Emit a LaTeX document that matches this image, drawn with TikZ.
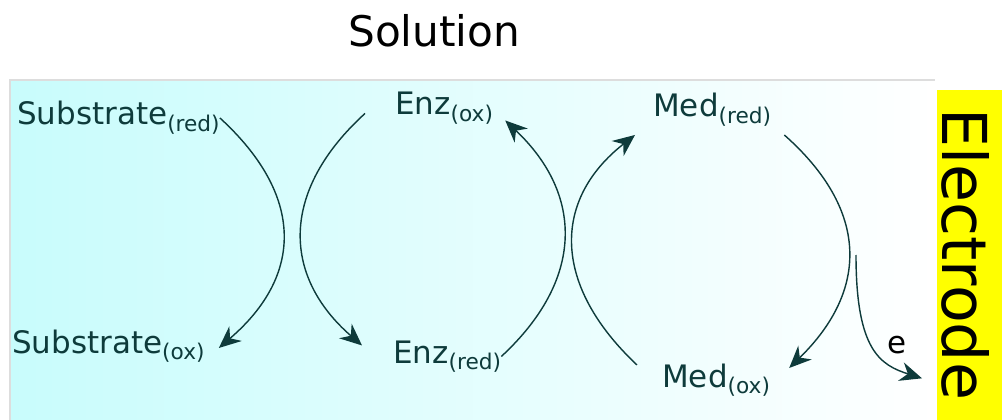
\documentclass[tikz,border=0pt]{standalone}
\usepackage{fontspec}
\setmainfont{DejaVu Sans}
\usetikzlibrary{positioning}
\usetikzlibrary{arrows.meta}
\usetikzlibrary{calc}
\definecolor{ink}{HTML}{0E3B3B}
\definecolor{bath}{HTML}{C8FCFC}
\definecolor{rim}{HTML}{DDDDDD}
\definecolor{plate}{HTML}{FFFF00}
\tikzset{
  % A redox species with its state as a subscript
  species/.style={
    text=ink, font=\fontsize{22}{24}\selectfont, inner sep=0pt, anchor=base west},
  % The electrode strip
  platebox/.style={
    draw=none, fill=plate, inner sep=0pt, anchor=north west,
    minimum width=1.625cm, minimum height=8.25cm},
  % Curved reaction arrows
  flow/.style={-{Stealth[length=5.5mm, width=4.8mm, inset=1.8mm]}, draw=ink, line width=1pt},
}
\newcommand{\species}[2]{#1{\fontsize{15.4}{15}\selectfont\raisebox{-4.7pt}{#2}}}

\begin{document}
\begin{tikzpicture}[x=0.025cm, y=-0.025cm]
  \useasboundingbox (0,0) rectangle (1002,420);

  % solution and electrode
  \shade[left color=bath, right color=white] (10,80) rectangle (935,420);
  \draw[rim, line width=0.8pt] (10,420) -- (10,80) -- (935,80);
  \node[platebox] (plate) at (937,90) {};
  \node[rotate=-90, anchor=base west, inner sep=0pt,
        font=\fontsize{44}{44}\selectfont] (elec) at (942,108) {Electrode};
  \node[anchor=base west, inner sep=0pt,
        font=\fontsize{30}{30}\selectfont] (soln) at (348,47) {Solution};

  \node[species] (subred) at (17,125) {\species{Substrate}{(red)}};
  \node[species] (subox)  at (12,353) {\species{Substrate}{(ox)}};
  \node[species] (enzox)  at (395,115) {\species{Enz}{(ox)}};
  \node[species] (enzred) at (393,363) {\species{Enz}{(red)}};
  \node[species] (medred) at (653,117) {\species{Med}{(red)}};
  \node[species] (medox)  at (662,387) {\species{Med}{(ox)}};
  \node[species, text=black] (elabel) at (887,353) {e};

  \coordinate (eout) at (856,255);

  \draw[flow] (subred.east) .. controls (304,195) and (304,275) .. ($(subox.east)+(14,2)$);
  \draw[flow] ($(enzox.west)+(-30,5)$) .. controls (281,190) and (281,275) .. ($(enzred.west)+(-31,-11)$);
  \draw[flow] (enzred.east) .. controls (584,280) and (584,195) .. ($(enzox.east)+(12,12)$);
  \draw[flow] ($(medox.west)+(-25,-15)$) .. controls (552,285) and (552,200) .. ($(medred.west)+(-18,25)$);
  \draw[flow] ($(medred.east)+(13,25)$) .. controls (869,210) and (869,290) .. ($(medox.east)+(19,-12)$);
  \draw[flow] (eout) .. controls (856,350) and (880,365) .. ($(plate.west)+(-15,123)$);

\end{tikzpicture}
\end{document}
